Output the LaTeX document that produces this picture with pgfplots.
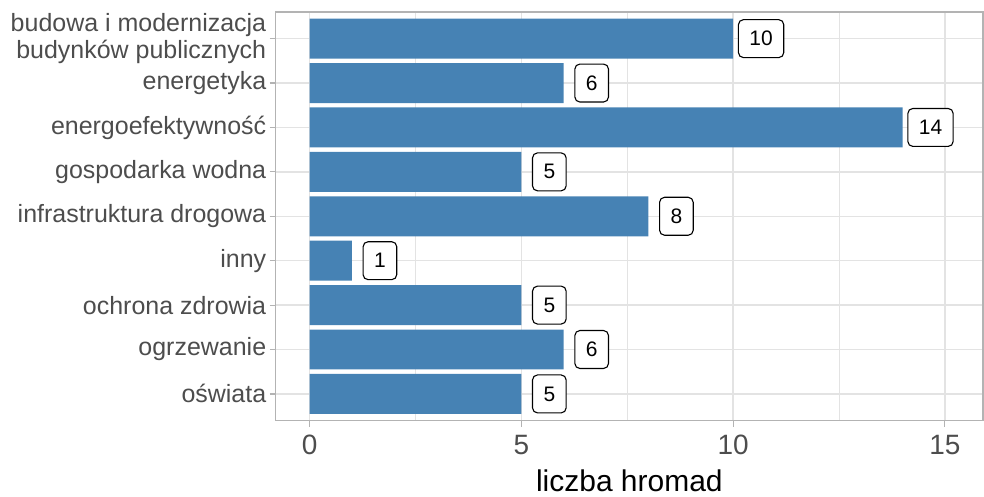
\documentclass[border=0pt]{standalone}
\usepackage{pgfplots}
\pgfplotsset{compat=1.18}
\usepackage{fontspec}
\setmainfont{Liberation Sans}
\definecolor{barc}{HTML}{4682B4}
\definecolor{gridc}{HTML}{E3E3E3}
\definecolor{borderc}{HTML}{B3B3B3}
\definecolor{tickc}{HTML}{4D4D4D}
\begin{document}
\begin{tikzpicture}
\useasboundingbox (-276pt,-76pt) rectangle (709pt,421pt);
\begin{axis}[
  at={(0,0)}, anchor=south west,
  scale only axis, width=708pt, height=409pt,
  xmin=-0.8, xmax=15.9, ymin=0.4, ymax=9.6,
  xbar, bar width=40pt,
  /pgf/number format/assume math mode=true,
  ytick={1,2,3,4,5,6,7,8,9},
  yticklabels={oświata, ogrzewanie, ochrona zdrowia, inny, infrastruktura drogowa, gospodarka wodna, energoefektywność, energetyka, {budowa i modernizacja\\budynków publicznych}},
  xtick={0,5,10,15},
  minor xtick={2.5,7.5,12.5},
  xmajorgrids, xminorgrids, ymajorgrids,
  major grid style={gridc, line width=1.3pt},
  minor grid style={gridc, line width=0.8pt},
  tick pos=left, tick align=outside,
  major tick length=6pt, minor tick length=0pt,
  tick style={borderc, line width=1.2pt},
  axis line style={borderc, line width=1.3pt},
  yticklabel style={font=\fontsize{25}{27}\selectfont, text=tickc, align=right},
  xticklabel style={font=\fontsize{28}{28}\selectfont, text=tickc, yshift=-5pt},
  xlabel={liczba hromad},
  xlabel style={font=\fontsize{30}{30}\selectfont, text=black, yshift=-8pt},
  nodes near coords,
  every node near coord/.append style={draw=black, fill=white, rounded corners=5pt,
     font=\fontsize{21}{21}\selectfont, text=black, anchor=center, xshift=28pt,
     minimum height=38pt, inner xsep=11pt, line width=1.1pt},
]
\addplot[fill=barc, draw=none] coordinates {(5,1) (6,2) (5,3) (1,4) (8,5) (5,6) (14,7) (6,8) (10,9)};
\end{axis}
\end{tikzpicture}
\end{document}
